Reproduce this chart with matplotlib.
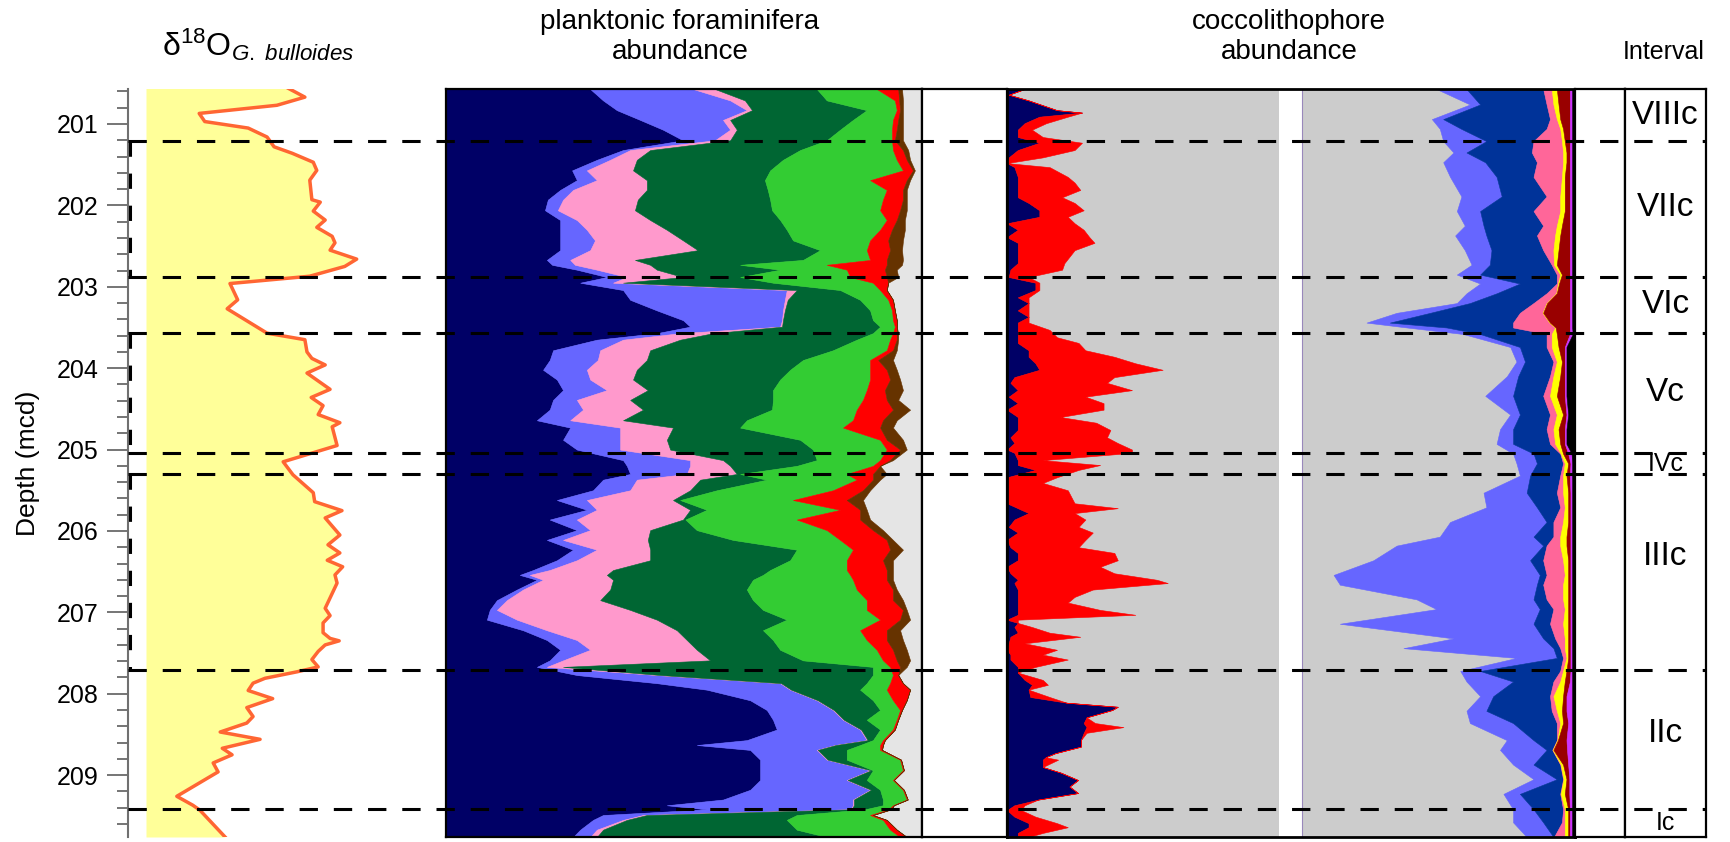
import numpy as np
import matplotlib
matplotlib.use("Agg")
import matplotlib.pyplot as plt
from matplotlib.ticker import MultipleLocator

plt.rcParams['font.family'] = ['Liberation Sans', 'DejaVu Sans']
plt.rcParams['mathtext.fontset'] = 'custom'
plt.rcParams['mathtext.rm'] = 'Liberation Sans'
plt.rcParams['mathtext.it'] = 'Liberation Sans:italic'

# ---------------- data ----------------
depth_top, depth_bot = 200.57, 209.76

# interval boundaries (dashed lines) and names
boundaries = [201.21, 202.88, 203.57, 205.04, 205.30, 207.71, 209.41]
interval_names = ['VIIIc', 'VIIc', 'VIc', 'Vc', 'IVc', 'IIIc', 'IIc', 'Ic']
glacial_spans = [(201.21, 202.88), (203.57, 205.04), (205.30, 207.71)]

# d18O G. bulloides (permil, arbitrary offset)
d18o_depth = [200.56, 200.67, 200.77, 200.87, 200.97, 201.05, 201.16, 201.28, 201.36, 201.47,
              201.57, 201.69, 201.93, 201.96, 202.07, 202.18, 202.27, 202.38, 202.46, 202.55,
              202.66, 202.75, 202.87, 202.96, 203.16, 203.27, 203.57, 203.65, 203.80, 203.88,
              203.96, 204.06, 204.26, 204.36, 204.46, 204.57, 204.67, 204.72, 204.95, 205.15,
              205.31, 205.53, 205.64, 205.75, 205.84, 206.05, 206.17, 206.27, 206.36, 206.44,
              206.54, 206.64, 206.95, 207.04, 207.13, 207.25, 207.32, 207.35, 207.40, 207.48,
              207.58, 207.67, 207.73, 207.81, 207.87, 207.96, 208.06, 208.17, 208.28, 208.36,
              208.47, 208.56, 208.67, 208.75, 208.85, 208.96, 209.26, 209.37, 209.43, 209.76]
d18o_val = [2.53, 2.77, 2.37, 1.26, 1.34, 1.96, 2.23, 2.33, 2.59, 2.89,
            2.94, 2.84, 2.87, 2.99, 2.89, 3.06, 2.94, 3.16, 3.20, 3.13,
            3.51, 3.34, 2.84, 1.70, 1.81, 1.66, 2.23, 2.77, 2.80, 2.87,
            3.06, 2.80, 3.13, 2.86, 3.03, 2.96, 3.27, 3.16, 3.23, 2.46,
            2.60, 2.89, 2.91, 3.30, 3.06, 3.27, 3.10, 3.27, 3.09, 3.31,
            3.20, 3.23, 3.06, 3.13, 3.03, 3.03, 3.13, 3.26, 3.06, 2.96,
            2.87, 2.96, 2.66, 2.20, 2.03, 1.96, 2.31, 1.94, 2.03, 1.94,
            1.56, 2.13, 1.59, 1.73, 1.46, 1.53, 0.94, 1.17, 1.27, 1.63]

# planktonic foraminifera, cumulative % (right edge of each group)
fora_depth = [200.57, 200.71, 200.83, 200.95, 201.07, 201.20, 201.32, 201.44, 201.57, 201.69,
              201.81, 201.93, 202.06, 202.18, 202.30, 202.43, 202.55, 202.67, 202.73, 202.79,
              202.88, 202.95, 203.04, 203.16, 203.29, 203.41, 203.49, 203.57, 203.65, 203.78,
              203.90, 204.02, 204.14, 204.27, 204.39, 204.51, 204.64, 204.73, 204.88, 205.00,
              205.13, 205.20, 205.30, 205.37, 205.50, 205.62, 205.74, 205.86, 205.99, 206.11,
              206.23, 206.36, 206.48, 206.54, 206.60, 206.72, 206.85, 206.97, 207.09, 207.22,
              207.34, 207.46, 207.59, 207.67, 207.77, 207.87, 207.95, 208.08, 208.20, 208.32,
              208.44, 208.57, 208.63, 208.69, 208.81, 208.94, 209.06, 209.18, 209.30, 209.37,
              209.42, 209.49, 209.55, 209.67, 209.76]
fora_navy = [30.3, 33.0, 35.9, 40.8, 45.6, 49.8, 37.2, 31.7, 26.5, 27.5,
             24.0, 21.4, 20.8, 24.0, 24.0, 24.0, 24.0, 21.2, 22.3, 27.5,
             33.8, 28.2, 37.2, 38.7, 44.3, 49.8, 51.3, 44.3, 31.7, 22.5,
             21.8, 20.4, 23.3, 24.6, 22.5, 21.8, 19.1, 26.1, 24.6, 27.5,
             37.2, 38.0, 38.7, 33.0, 30.9, 23.3, 29.6, 21.8, 27.5, 21.2,
             26.7, 23.3, 18.3, 15.5, 19.1, 14.9, 10.7, 9.2, 8.6, 16.2,
             21.2, 24.0, 21.8, 19.1, 27.5, 44.3, 54.8, 63.9, 67.4, 68.7,
             69.5, 63.2, 52.7, 63.9, 66.0, 66.0, 66.0, 63.9, 58.2, 46.4,
             54.8, 33.0, 30.9, 28.2, 26.7]
fora_lblue = [51.9, 59.7, 63.2, 58.2, 59.7, 56.5, 38.7, 34.5, 29.6, 31.7,
              26.7, 24.6, 23.5, 27.5, 29.6, 31.3, 30.3, 26.1, 27.1, 31.7,
              38.0, 35.1, 71.6, 71.2, 70.8, 70.6, 70.2, 49.2, 37.2, 32.4,
              31.9, 29.6, 30.3, 33.8, 27.5, 28.8, 26.1, 36.6, 36.6, 36.6,
              51.3, 51.3, 50.6, 40.1, 38.7, 29.6, 31.7, 27.5, 30.3, 24.6,
              31.7, 27.5, 21.8, 17.6, 20.4, 16.2, 12.8, 10.7, 14.9, 21.2,
              27.5, 30.3, 24.6, 21.2, 44.3, 70.2, 72.3, 77.9, 81.3, 83.4,
              87.0, 88.4, 81.7, 77.9, 80.0, 89.1, 84.2, 89.1, 85.5, 85.5,
              85.0, 41.4, 37.2, 31.7, 30.3]
fora_pink = [56.5, 62.8, 64.3, 59.7, 61.1, 59.7, 42.9, 40.1, 39.3, 42.2,
             42.2, 40.3, 39.7, 42.9, 46.4, 49.8, 52.9, 39.7, 42.9, 44.3,
             49.8, 37.2, 73.7, 71.8, 71.2, 70.8, 70.6, 56.1, 49.2, 42.9,
             42.2, 40.1, 39.3, 42.4, 38.7, 41.4, 37.2, 47.7, 46.4, 47.1,
             58.2, 59.7, 61.1, 53.4, 51.3, 47.7, 51.3, 49.8, 42.9, 42.4,
             42.9, 42.9, 35.1, 33.8, 35.1, 34.5, 32.4, 38.7, 44.3, 48.5,
             50.6, 52.7, 55.5, 24.6, 45.0, 70.4, 72.5, 78.1, 81.5, 83.6,
             87.2, 88.6, 81.9, 78.1, 80.2, 89.3, 84.4, 89.3, 85.7, 85.7,
             85.2, 42.2, 38.0, 33.0, 31.7]
fora_dgreen = [77.9, 80.0, 88.4, 85.5, 82.8, 80.0, 74.4, 70.8, 68.1, 67.0,
               67.6, 68.1, 68.5, 70.2, 71.6, 72.9, 78.6, 75.0, 61.8, 70.2,
               61.8, 68.7, 82.8, 87.0, 89.1, 89.7, 91.2, 89.7, 86.3, 81.3,
               75.0, 72.3, 70.2, 68.7, 68.7, 68.5, 63.2, 61.8, 74.4, 77.1,
               77.9, 73.7, 61.8, 67.4, 56.9, 49.2, 54.8, 50.3, 52.7, 60.3,
               73.7, 72.3, 68.1, 66.6, 64.5, 63.2, 64.5, 66.6, 71.6, 66.6,
               68.7, 70.2, 75.0, 89.7, 89.7, 88.4, 87.0, 89.7, 91.2, 88.4,
               91.2, 89.7, 87.0, 84.2, 84.2, 89.7, 88.4, 91.2, 91.8, 91.8,
               88.0, 73.7, 71.6, 73.7, 80.0]
fora_bgreen = [90.5, 94.3, 94.7, 93.9, 93.7, 93.7, 93.9, 94.7, 96.0, 89.1,
               92.6, 91.8, 91.2, 92.6, 91.2, 89.1, 88.4, 89.1, 80.0, 84.2,
               84.9, 89.7, 91.2, 92.9, 93.7, 93.9, 94.3, 93.9, 93.3, 92.6,
               89.1, 89.1, 89.1, 88.4, 87.6, 86.3, 85.5, 83.4, 91.2, 92.6,
               91.2, 89.7, 84.2, 86.3, 81.3, 72.9, 82.8, 73.7, 80.0, 82.8,
               85.5, 84.2, 84.2, 84.9, 85.5, 86.3, 88.4, 88.4, 91.2, 87.0,
               88.4, 90.5, 91.8, 93.3, 93.9, 93.3, 92.6, 93.9, 95.4, 94.7,
               93.9, 91.8, 91.2, 91.2, 95.4, 96.0, 93.9, 96.0, 96.8, 93.9,
               93.0, 89.1, 91.8, 93.3, 95.4]
fora_red = [95.0, 95.2, 95.4, 95.0, 94.7, 94.3, 96.0, 96.8, 98.1, 96.8,
            96.0, 96.0, 95.4, 94.7, 93.7, 92.9, 93.3, 92.6, 92.6, 92.2,
            92.6, 92.9, 92.6, 93.9, 94.3, 94.7, 94.7, 94.7, 94.7, 93.9,
            90.8, 92.6, 93.3, 92.2, 92.6, 93.9, 91.8, 91.2, 92.6, 95.4,
            93.3, 91.2, 89.7, 89.7, 87.6, 84.2, 87.0, 87.0, 89.7, 92.6,
            93.3, 91.8, 92.6, 92.6, 92.6, 93.9, 93.9, 96.0, 95.4, 92.6,
            92.6, 93.9, 94.7, 95.4, 95.0, 96.0, 97.5, 96.8, 95.8, 95.0,
            94.3, 92.2, 91.8, 91.6, 95.6, 96.2, 94.1, 96.2, 97.0, 94.1,
            93.5, 89.7, 92.6, 94.7, 96.8]
fora_brown = [95.8, 96.0, 96.0, 96.0, 96.0, 96.0, 97.1, 97.5, 98.5, 97.5,
              96.8, 96.8, 96.8, 96.4, 96.4, 96.0, 95.8, 96.0, 95.8, 94.7,
              95.0, 92.9, 92.6, 93.9, 94.3, 94.7, 94.7, 95.0, 95.0, 94.7,
              93.9, 94.7, 95.4, 96.0, 95.0, 97.5, 94.7, 93.9, 96.0, 96.8,
              93.9, 91.2, 92.6, 91.2, 89.1, 87.6, 88.4, 89.1, 91.8, 93.9,
              96.0, 93.9, 93.9, 93.9, 93.9, 94.7, 96.0, 96.8, 97.5, 95.4,
              96.0, 96.8, 97.5, 96.8, 95.0, 96.0, 97.5, 96.8, 95.8, 95.0,
              94.3, 92.2, 91.8, 91.6, 95.6, 96.2, 94.1, 96.2, 97.0, 94.1,
              93.5, 89.7, 92.6, 94.7, 96.8]

# coccolithophores, left group (cumulative % from the left)
cocl_depth = [200.57, 200.64, 200.71, 200.83, 200.86, 200.91, 200.99, 201.07, 201.16, 201.23,
              201.32, 201.41, 201.48, 201.53, 201.65, 201.72, 201.81, 201.90, 201.97, 202.06,
              202.14, 202.22, 202.30, 202.39, 202.46, 202.55, 202.63, 202.71, 202.79, 202.88,
              202.95, 203.04, 203.13, 203.20, 203.29, 203.37, 203.44, 203.53, 203.62, 203.69,
              203.78, 203.86, 203.94, 204.02, 204.11, 204.18, 204.27, 204.35, 204.43, 204.51,
              204.60, 204.67, 204.76, 204.85, 204.92, 205.00, 205.04, 205.13, 205.19, 205.25,
              205.34, 205.41, 205.50, 205.58, 205.66, 205.72, 205.78, 205.86, 205.95, 206.02,
              206.11, 206.20, 206.27, 206.36, 206.44, 206.52, 206.60, 206.64, 206.72, 206.81,
              206.88, 206.97, 207.03, 207.09, 207.13, 207.18, 207.25, 207.30, 207.38, 207.46,
              207.52, 207.58, 207.67, 207.74, 207.83, 207.89, 207.95, 208.04, 208.11, 208.16,
              208.20, 208.29, 208.36, 208.41, 208.48, 208.57, 208.65, 208.73, 208.78, 208.81,
              208.90, 208.97, 209.06, 209.14, 209.22, 209.30, 209.37, 209.43, 209.51, 209.59,
              209.64, 209.71, 209.76]
cocl_navy = [3.1, 0.3, 3.8, 8.8, 13.2, 5.7, 3.1, 1.9, 1.9, 5.7,
             1.9, 0.3, 0.0, 1.3, 1.9, 1.9, 1.9, 1.9, 3.8, 5.7,
             5.7, 0.0, 1.9, 0.0, 1.9, 1.9, 1.9, 1.9, 0.6, 0.3,
             5.0, 5.0, 1.9, 3.8, 1.9, 3.8, 1.9, 1.9, 1.9, 1.9,
             3.8, 3.8, 5.0, 5.7, 1.3, 0.6, 1.9, 0.3, 1.9, 0.0,
             1.9, 1.9, 1.9, 0.6, 1.3, 0.0, 1.3, 1.9, 1.9, 5.0,
             0.0, 0.0, 0.0, 0.0, 0.0, 1.9, 3.8, 1.3, 0.3, 1.9,
             0.0, 0.6, 1.9, 1.9, 0.0, 0.6, 1.9, 1.3, 1.9, 1.9,
             1.9, 1.9, 1.9, 0.0, 1.9, 1.3, 1.9, 0.6, 0.3, 0.0,
             0.6, 0.6, 1.9, 1.9, 3.1, 4.4, 3.8, 4.1, 10.5, 19.5,
             18.5, 14.0, 13.5, 14.0, 13.5, 13.0, 13.0, 8.5, 6.8, 6.3,
             6.3, 9.5, 12.5, 11.0, 12.5, 5.5, 1.3, 0.0, 1.3, 3.8,
             3.8, 1.9, 1.9]
cocl_red = [3.1, 0.3, 3.8, 8.8, 13.2, 10.7, 6.9, 4.4, 6.3, 13.2,
            11.9, 6.3, 0.0, 7.5, 10.7, 11.9, 12.9, 9.7, 11.9, 13.5,
            10.7, 11.9, 13.5, 14.5, 15.4, 11.9, 11.0, 10.1, 9.7, 3.8,
            5.7, 5.7, 3.8, 3.8, 3.8, 3.8, 3.8, 7.5, 8.8, 12.6,
            13.8, 18.9, 22.6, 27.4, 18.9, 17.6, 22.0, 13.8, 17.0, 17.0,
            9.4, 15.7, 18.2, 17.6, 19.5, 22.0, 22.0, 6.3, 16.4, 12.6,
            8.8, 6.3, 10.7, 11.3, 11.9, 19.5, 11.9, 13.8, 12.6, 15.1,
            13.8, 12.6, 18.9, 19.5, 16.4, 18.9, 26.4, 28.3, 15.1, 11.9,
            10.7, 16.4, 22.6, 1.9, 1.9, 4.4, 7.5, 12.9, 3.1, 8.8,
            6.3, 10.7, 5.0, 1.9, 6.3, 7.2, 3.8, 7.5, 10.5, 19.5,
            18.5, 14.0, 15.5, 20.5, 14.0, 13.0, 13.0, 8.5, 6.8, 9.0,
            6.3, 9.5, 12.5, 11.0, 12.5, 5.5, 3.1, 2.5, 5.0, 8.8,
            10.7, 6.3, 3.8]

# coccolithophores, right group (left edge of each group, cumulative %)
cocr_depth = [200.57, 200.76, 200.94, 201.06, 201.21, 201.35, 201.47, 201.65, 201.89, 202.07,
              202.25, 202.37, 202.55, 202.73, 202.85, 202.96, 203.08, 203.20, 203.32, 203.44,
              203.50, 203.58, 203.74, 203.92, 204.10, 204.34, 204.57, 204.75, 204.93, 205.05,
              205.17, 205.32, 205.53, 205.71, 205.89, 206.07, 206.18, 206.36, 206.54, 206.66,
              206.84, 206.96, 207.14, 207.32, 207.44, 207.56, 207.72, 207.85, 208.03, 208.21,
              208.36, 208.57, 208.69, 208.87, 209.05, 209.23, 209.42, 209.58, 209.76]
cocr_lblue = [75.6, 81.5, 74.8, 76.2, 76.8, 78.6, 76.8, 78.0, 80.0, 79.2,
              80.6, 78.9, 80.6, 81.8, 79.2, 83.3, 80.9, 79.2, 68.6, 63.3,
              70.4, 80.3, 88.6, 89.7, 88.0, 84.2, 88.6, 86.8, 86.2, 89.1,
              89.7, 90.3, 83.9, 84.4, 78.0, 76.2, 68.6, 64.5, 57.5, 58.6,
              72.1, 75.6, 58.6, 78.6, 69.8, 89.7, 79.8, 80.9, 83.3, 80.9,
              81.5, 88.0, 86.8, 89.1, 92.7, 87.4, 89.1, 89.1, 91.5]
cocr_dblue = [80.9, 83.3, 76.8, 80.0, 84.4, 80.9, 84.2, 86.2, 87.1, 83.3,
              83.9, 84.4, 85.3, 85.0, 83.3, 90.3, 86.2, 81.5, 74.5, 67.4,
              77.4, 83.3, 90.3, 91.2, 90.0, 89.1, 90.3, 89.1, 89.1, 92.7,
              93.3, 92.1, 91.5, 93.3, 95.0, 92.7, 94.4, 92.1, 93.8, 93.3,
              92.7, 93.8, 92.7, 94.4, 96.2, 96.8, 83.3, 89.1, 85.6, 84.4,
              89.1, 92.7, 95.0, 92.7, 96.8, 90.3, 92.7, 94.4, 96.2]
cocr_pink = [94.4, 95.0, 95.6, 95.0, 92.7, 92.4, 93.3, 92.7, 95.0, 92.7,
             94.4, 93.3, 94.4, 95.9, 96.8, 96.8, 95.0, 92.7, 90.3, 89.1,
             89.1, 95.0, 95.0, 96.2, 95.6, 94.4, 95.6, 95.0, 95.6, 97.4,
             97.9, 97.4, 96.8, 97.4, 96.2, 96.2, 95.0, 94.4, 95.0, 94.4,
             95.0, 96.2, 95.6, 96.5, 97.4, 97.9, 97.4, 96.2, 95.6, 95.9,
             96.8, 96.8, 96.0, 97.4, 97.9, 97.4, 97.9, 97.7, 96.3]
cocr_yellow = [95.9, 96.2, 96.8, 97.4, 97.7, 97.9, 97.9, 97.7, 97.4, 97.4,
               96.8, 96.5, 96.2, 96.3, 97.4, 97.0, 96.7, 95.0, 94.3, 95.5,
               96.5, 95.9, 95.9, 96.8, 96.2, 95.6, 96.8, 96.2, 96.5, 97.5,
               98.2, 97.9, 97.9, 98.2, 97.9, 97.4, 97.4, 97.9, 98.2, 97.9,
               97.9, 98.2, 97.9, 98.2, 98.2, 98.5, 97.9, 97.4, 96.2, 96.8,
               97.4, 96.9, 96.1, 97.5, 98.0, 97.5, 98.2, 98.2, 98.2]
cocr_dred = [96.8, 97.1, 97.4, 97.9, 98.2, 98.5, 98.5, 98.2, 98.2, 98.2,
             97.7, 97.4, 97.1, 96.8, 97.7, 97.2, 96.8, 95.1, 94.4, 95.6,
             96.6, 96.8, 97.1, 97.7, 97.4, 96.8, 97.9, 97.1, 97.4, 97.9,
             98.8, 98.5, 98.8, 98.8, 98.8, 98.5, 98.5, 98.8, 98.8, 98.8,
             98.8, 98.8, 98.8, 98.8, 98.8, 98.8, 98.5, 98.2, 97.9, 97.7,
             97.9, 97.0, 96.2, 97.9, 98.5, 98.2, 98.8, 98.8, 98.8]
cocr_purple = [99.1, 99.1, 99.1, 99.1, 99.1, 99.1, 99.1, 99.1, 99.1, 99.1,
               99.1, 99.1, 99.1, 99.1, 99.1, 99.1, 99.1, 99.1, 99.1, 99.1,
               99.1, 99.1, 98.2, 98.2, 98.2, 98.2, 98.5, 98.2, 98.2, 98.8,
               99.2, 99.1, 99.2, 99.2, 99.2, 99.2, 99.2, 99.2, 99.2, 99.2,
               99.2, 99.2, 99.2, 99.2, 99.2, 99.2, 99.2, 99.1, 98.5, 98.5,
               98.8, 98.5, 98.6, 98.8, 99.0, 99.0, 99.1, 99.1, 99.1]
cocr_black = [99.5, 99.5, 99.5, 99.5, 99.5, 99.5, 99.5, 99.5, 99.5, 99.5,
              99.5, 99.5, 99.5, 99.5, 99.5, 99.5, 99.5, 99.5, 99.5, 99.5,
              99.5, 99.6, 98.5, 98.5, 98.5, 98.5, 98.8, 98.5, 98.5, 99.4,
              99.5, 99.5, 99.5, 99.5, 99.5, 99.5, 99.5, 99.5, 99.5, 99.5,
              99.5, 99.5, 99.5, 99.5, 99.5, 99.5, 99.5, 99.5, 99.5, 99.5,
              99.5, 99.5, 99.5, 99.5, 99.5, 99.5, 99.5, 99.5, 99.5]

# ---------------- layout ----------------
W, H = 1731, 842
fig = plt.figure(figsize=(W / 100, H / 100), dpi=100)


def px_axes(x0, x1, y0=89, y1=837):
    return fig.add_axes([x0 / W, 1 - y1 / H, (x1 - x0) / W, (y1 - y0) / H])


def frame(ax, lw=1.6):
    for s in ax.spines.values():
        s.set_linewidth(lw)
        s.set_color('black')
    ax.set_xticks([])
    ax.set_yticks([])
    ax.set_ylim(depth_bot, depth_top)


def stack(ax, depth, edges, colors):
    for i, c in enumerate(colors):
        ax.fill_betweenx(depth, edges[i], edges[i + 1], facecolor=c,
                         edgecolor=c, lw=0.4)


# d18O panel with depth axis
ax_o = px_axes(128, 400)
ax_o.fill_betweenx(d18o_depth, 0.5, d18o_val, color='#FFFF99', lw=0)
ax_o.plot(d18o_val, d18o_depth, color='#FF6633', lw=2.5)
ax_o.set_xlim(0.243, 4.129)
ax_o.set_ylim(depth_bot, depth_top)
for s in ['top', 'right', 'bottom']:
    ax_o.spines[s].set_visible(False)
ax_o.spines['left'].set_color('#707070')
ax_o.spines['left'].set_linewidth(1.5)
ax_o.set_xticks([])
ax_o.yaxis.set_major_locator(MultipleLocator(1))
ax_o.yaxis.set_minor_locator(MultipleLocator(0.2))
ax_o.tick_params(axis='y', which='major', length=15, width=1.1, color='#505050',
                 labelsize=18, pad=6)
ax_o.tick_params(axis='y', which='minor', length=8, width=1.1, color='#505050')
ax_o.patch.set_alpha(0)

# planktonic foraminifera
ax_f = px_axes(446, 922)
ax_f.set_facecolor('#E5E5E5')
n = len(fora_depth)
f_edges = [np.zeros(n), fora_navy, fora_lblue, fora_pink, fora_dgreen,
           fora_bgreen, fora_red, fora_brown]
f_edges = np.maximum.accumulate(np.array(f_edges, dtype=float), axis=0)
stack(ax_f, fora_depth, f_edges,
      ['#000066', '#6666FF', '#FF99CC', '#006633', '#33CC33', '#FF0000', '#663300'])
ax_f.set_xlim(0, 100)
frame(ax_f)

ax_g1 = px_axes(922, 1007)
frame(ax_g1)

# coccolithophores
ax_c = px_axes(1007, 1575)
ax_c.set_facecolor('#CCCCCC')
m = len(cocl_depth)
cl_edges = np.maximum.accumulate(np.array([np.zeros(m), cocl_navy, cocl_red]), axis=0)
stack(ax_c, cocl_depth, cl_edges, ['#000066', '#FF0000'])
k = len(cocr_depth)
cr_edges = [cocr_lblue, cocr_dblue, cocr_pink, cocr_yellow, cocr_dred,
            cocr_purple, cocr_black, np.full(k, 100.0)]
cr_edges = np.maximum.accumulate(np.array(cr_edges, dtype=float), axis=0)
stack(ax_c, cocr_depth, cr_edges,
      ['#6666FF', '#003399', '#FF6699', '#FFFF00', '#990000', '#CC33FF', '#000000'])
ax_c.axvspan(47.9, 51.9, color='white', lw=0)
ax_c.axvline(51.9, color='#9988BB', lw=0.8)
ax_c.set_xlim(0, 100)
frame(ax_c, lw=2)

ax_g2 = px_axes(1575, 1625)
frame(ax_g2)

# interval column
ax_i = px_axes(1625, 1706)
frame(ax_i)
ax_i.set_xlim(0, 1)
label_pos = [200.89, 202.03, 203.22, 204.30, 205.18, 206.31, 208.49, 209.59]
label_size = [24, 24, 24, 24, 18, 24, 24, 18]
for name, y, fs in zip(interval_names, label_pos, label_size):
    ax_i.text(0.5, y, name, ha='center', va='center', fontsize=fs)

# dashed interval lines across all panels
ax_d = px_axes(128, 1706)
ax_d.set_xlim(0, 1)
ax_d.set_ylim(depth_bot, depth_top)
ax_d.axis('off')
for b in boundaries:
    ax_d.plot([0, 1], [b, b], color='black', lw=2.2, dashes=(6, 5.2),
              solid_capstyle='butt', dash_capstyle='butt')
for a, b in glacial_spans:
    ax_d.plot([0.001, 0.001], [a, b], color='black', lw=2.2, dashes=(5, 5.5),
              dash_capstyle='butt', clip_on=False)

# titles
fig.text(258 / W, 1 - 45 / H,
         r'$\mathrm{\delta}^{18}\mathrm{O}_{\mathit{G.\ bulloides}}$',
         fontsize=23, ha='center', va='center')
fig.text(680 / W, 1 - 37 / H, 'planktonic foraminifera\nabundance',
         fontsize=20, ha='center', va='center', linespacing=1.2)
fig.text(1289 / W, 1 - 37 / H, 'coccolithophore\nabundance',
         fontsize=20, ha='center', va='center', linespacing=1.2)
fig.text(1664 / W, 1 - 52 / H, 'Interval', fontsize=18, ha='center', va='center')
fig.text(28 / W, 1 - 463 / H, 'Depth (mcd)', fontsize=19, rotation=90,
         ha='center', va='center')

fig.savefig('out.png', dpi=100)
